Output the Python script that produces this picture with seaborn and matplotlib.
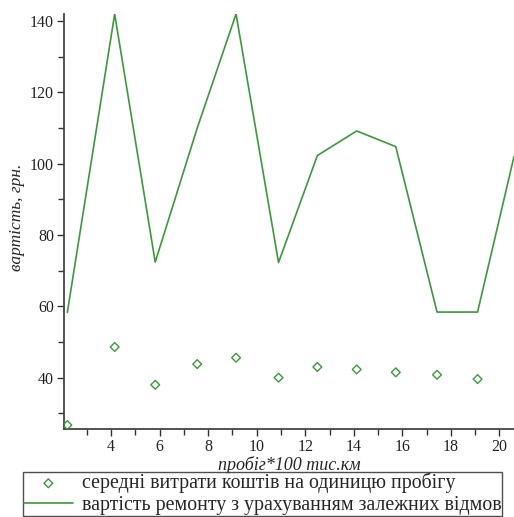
import matplotlib
matplotlib.use("Agg")
import matplotlib.pyplot as plt
import seaborn as sns
import pandas as pd
from matplotlib.ticker import MultipleLocator

# Data
point_x = [2.2, 4.15, 5.82, 7.55, 9.15, 10.9, 12.5, 14.12, 15.73, 17.43, 19.1]
point_y = [26.7, 48.6, 38.0, 43.8, 45.6, 40.0, 43.0, 42.3, 41.5, 40.8, 39.6]
line_x = [2.2, 4.15, 5.82, 7.55, 9.15, 10.9, 12.5, 14.12, 15.73, 17.43, 19.1, 20.6]
line_y = [58.3, 142.0, 72.4, 110.0, 142.0, 72.3, 102.3, 109.2, 104.8, 58.4, 58.4, 102.0]
x_ticks = [4, 6, 8, 10, 12, 14, 16, 18, 20]
y_ticks = [40, 60, 80, 100, 120, 140]
label_points = "середні витрати коштів на одиницю пробігу"
label_line = "вартість ремонту з урахуванням залежних відмов"
x_label = "пробіг*100 тис.км"
y_label = "вартість, грн."

sns.set_style("ticks")
plt.rcParams['font.family'] = ['Liberation Serif', 'DejaVu Serif']

green = "#3a9a3a"
fig = plt.figure(figsize=(5.14, 5.17), dpi=100)
ax = fig.add_axes([63.7/514, 1-429/517, 1-63.7/514, (429-14)/517])

df_p = pd.DataFrame({"x": point_x, "y": point_y})
df_l = pd.DataFrame({"x": line_x, "y": line_y})

sns.scatterplot(data=df_p, x="x", y="y", ax=ax, marker="D", s=20,
                facecolors="none", edgecolor=green, linewidth=1.0,
                label=label_points, zorder=3)
sns.lineplot(data=df_l, x="x", y="y", ax=ax, color=green, linewidth=1.2,
             label=label_line, sort=False)

ax.set_xlim(2.05, 20.6)
ax.set_ylim(25.6, 142.0)
ax.set_xticks(x_ticks)
ax.set_yticks(y_ticks)
ax.xaxis.set_minor_locator(MultipleLocator(1))
ax.yaxis.set_minor_locator(MultipleLocator(10))
ax.tick_params(axis='both', which='major', length=5, width=1.0, colors="#333333",
               labelsize=11.5, labelcolor="#222222", pad=2)
ax.tick_params(axis='both', which='minor', length=4, width=1.0, colors="#333333")
for s in ["top", "right"]:
    ax.spines[s].set_visible(False)
for s in ["left", "bottom"]:
    ax.spines[s].set_color("#444444")
    ax.spines[s].set_linewidth(1.3)

ax.set_xlabel(x_label, fontstyle="italic", fontsize=13, labelpad=1)
ax.set_ylabel(y_label, fontstyle="italic", fontsize=12.5, labelpad=3)
ax.yaxis.set_label_coords(-0.085, 0.51)

handles, labels = ax.get_legend_handles_labels()
ax.get_legend().remove()
leg = fig.legend(handles, labels, loc="upper left",
                 bbox_to_anchor=(23/514, 1-472/517), fontsize=14.3,
                 frameon=True, fancybox=False, edgecolor="#222222",
                 borderpad=0.05, labelspacing=0.12, handlelength=2.45,
                 handletextpad=0.45, borderaxespad=0)
leg.get_frame().set_linewidth(1.0)

fig.savefig("out.png", dpi=100)
